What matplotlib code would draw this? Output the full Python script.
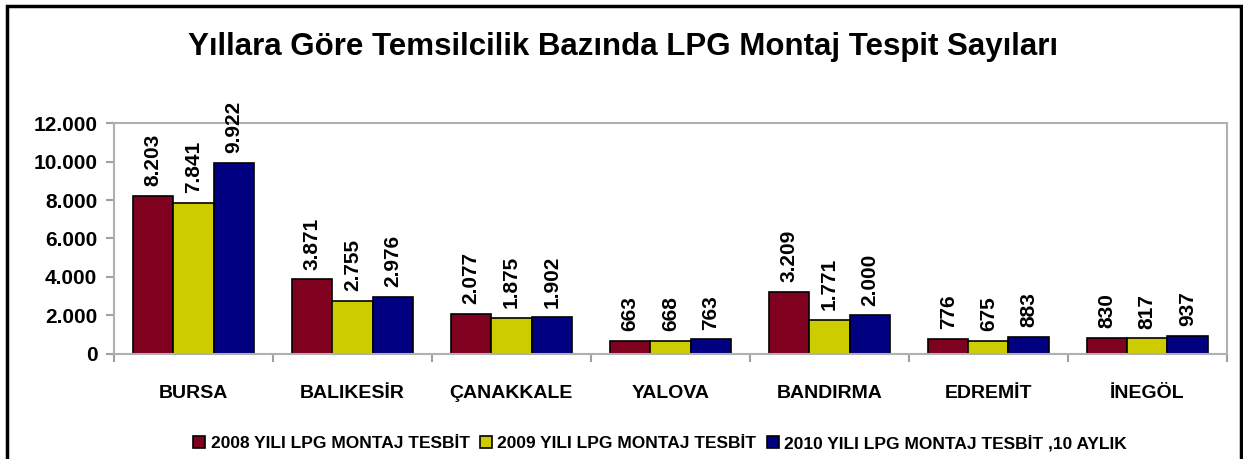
import matplotlib as mpl
mpl.use("Agg")
import matplotlib.pyplot as plt
import matplotlib.ticker as mticker
from matplotlib.patches import Rectangle
import numpy as np

plt.rcParams['font.family'] = ['Liberation Sans', 'DejaVu Sans']
plt.rcParams['font.weight'] = 'bold'

categories = ['BURSA', 'BALIKESİR', 'ÇANAKKALE', 'YALOVA', 'BANDIRMA', 'EDREMİT', 'İNEGÖL']
s2008 = [8203, 3871, 2077, 663, 3209, 776, 830]
s2009 = [7841, 2755, 1875, 668, 1771, 675, 817]
s2010 = [9922, 2976, 1902, 763, 2000, 883, 937]
series_names = ['2008 YILI LPG MONTAJ TESBİT', '2009 YILI LPG MONTAJ TESBİT',
                '2010 YILI LPG MONTAJ TESBİT ,10 AYLIK']
colors = ['#800020', '#CCCC00', '#000080']
title = 'Yıllara Göre Temsilcilik Bazında LPG Montaj Tespit Sayıları'


def tr_thousands(v, pos=None):
    return f'{int(round(v)):,}'.replace(',', '.')


fig = plt.figure(figsize=(12.43, 4.59), dpi=100)
ax = fig.add_axes([0.0917, 0.2288, 0.8953, 0.5032])

x = np.arange(len(categories))
w = 0.253
for i, (vals, c, name) in enumerate(zip([s2008, s2009, s2010], colors, series_names)):
    bars = ax.bar(x + (i - 1) * w, vals, w, color=c, edgecolor='black', linewidth=1.2, label=name)
    for b, v in zip(bars, vals):
        ax.annotate(tr_thousands(v), (b.get_x() + b.get_width() / 2, b.get_height()),
                    xytext=(0, 7), textcoords='offset points', rotation=90,
                    ha='center', va='bottom', fontsize=15, fontweight='bold')

ax.set_xlim(-0.5, len(categories) - 0.5)
ax.set_ylim(0, 12000)
ax.yaxis.set_major_locator(mticker.MultipleLocator(2000))
ax.yaxis.set_major_formatter(mticker.FuncFormatter(tr_thousands))

ax.set_xticks(x)
ax.set_xticklabels(categories)
ax.set_xticks(np.arange(len(categories) + 1) - 0.5, minor=True)
ax.tick_params(axis='x', which='major', length=0, pad=22, labelsize=14)
ax.tick_params(axis='x', which='minor', length=6, color='#A0A0A0', width=1.5)
ax.tick_params(axis='y', length=6, color='#A0A0A0', width=1.5, labelsize=15, pad=6)
for lbl in ax.get_xticklabels() + ax.get_yticklabels():
    lbl.set_fontweight('bold')
for sp in ax.spines.values():
    sp.set_color('#B0B0B0')
    sp.set_linewidth(1.5)

fig.text(0.501, 0.897, title, ha='center', va='center', fontsize=22.5, fontweight='bold')

fig.legend(loc='center', bbox_to_anchor=(0.531, 0.035), ncol=3, frameon=False,
           handlelength=0.7, handleheight=0.7, handletextpad=0.3, columnspacing=0.6,
           prop={'size': 12.5, 'weight': 'bold'})

fig.patches.append(Rectangle((7 / 1243, -0.05), 1234 / 1243, 1.05 - 6 / 459,
                             transform=fig.transFigure, fill=False,
                             edgecolor='black', linewidth=2.5))

fig.savefig('out.png', dpi=100)
